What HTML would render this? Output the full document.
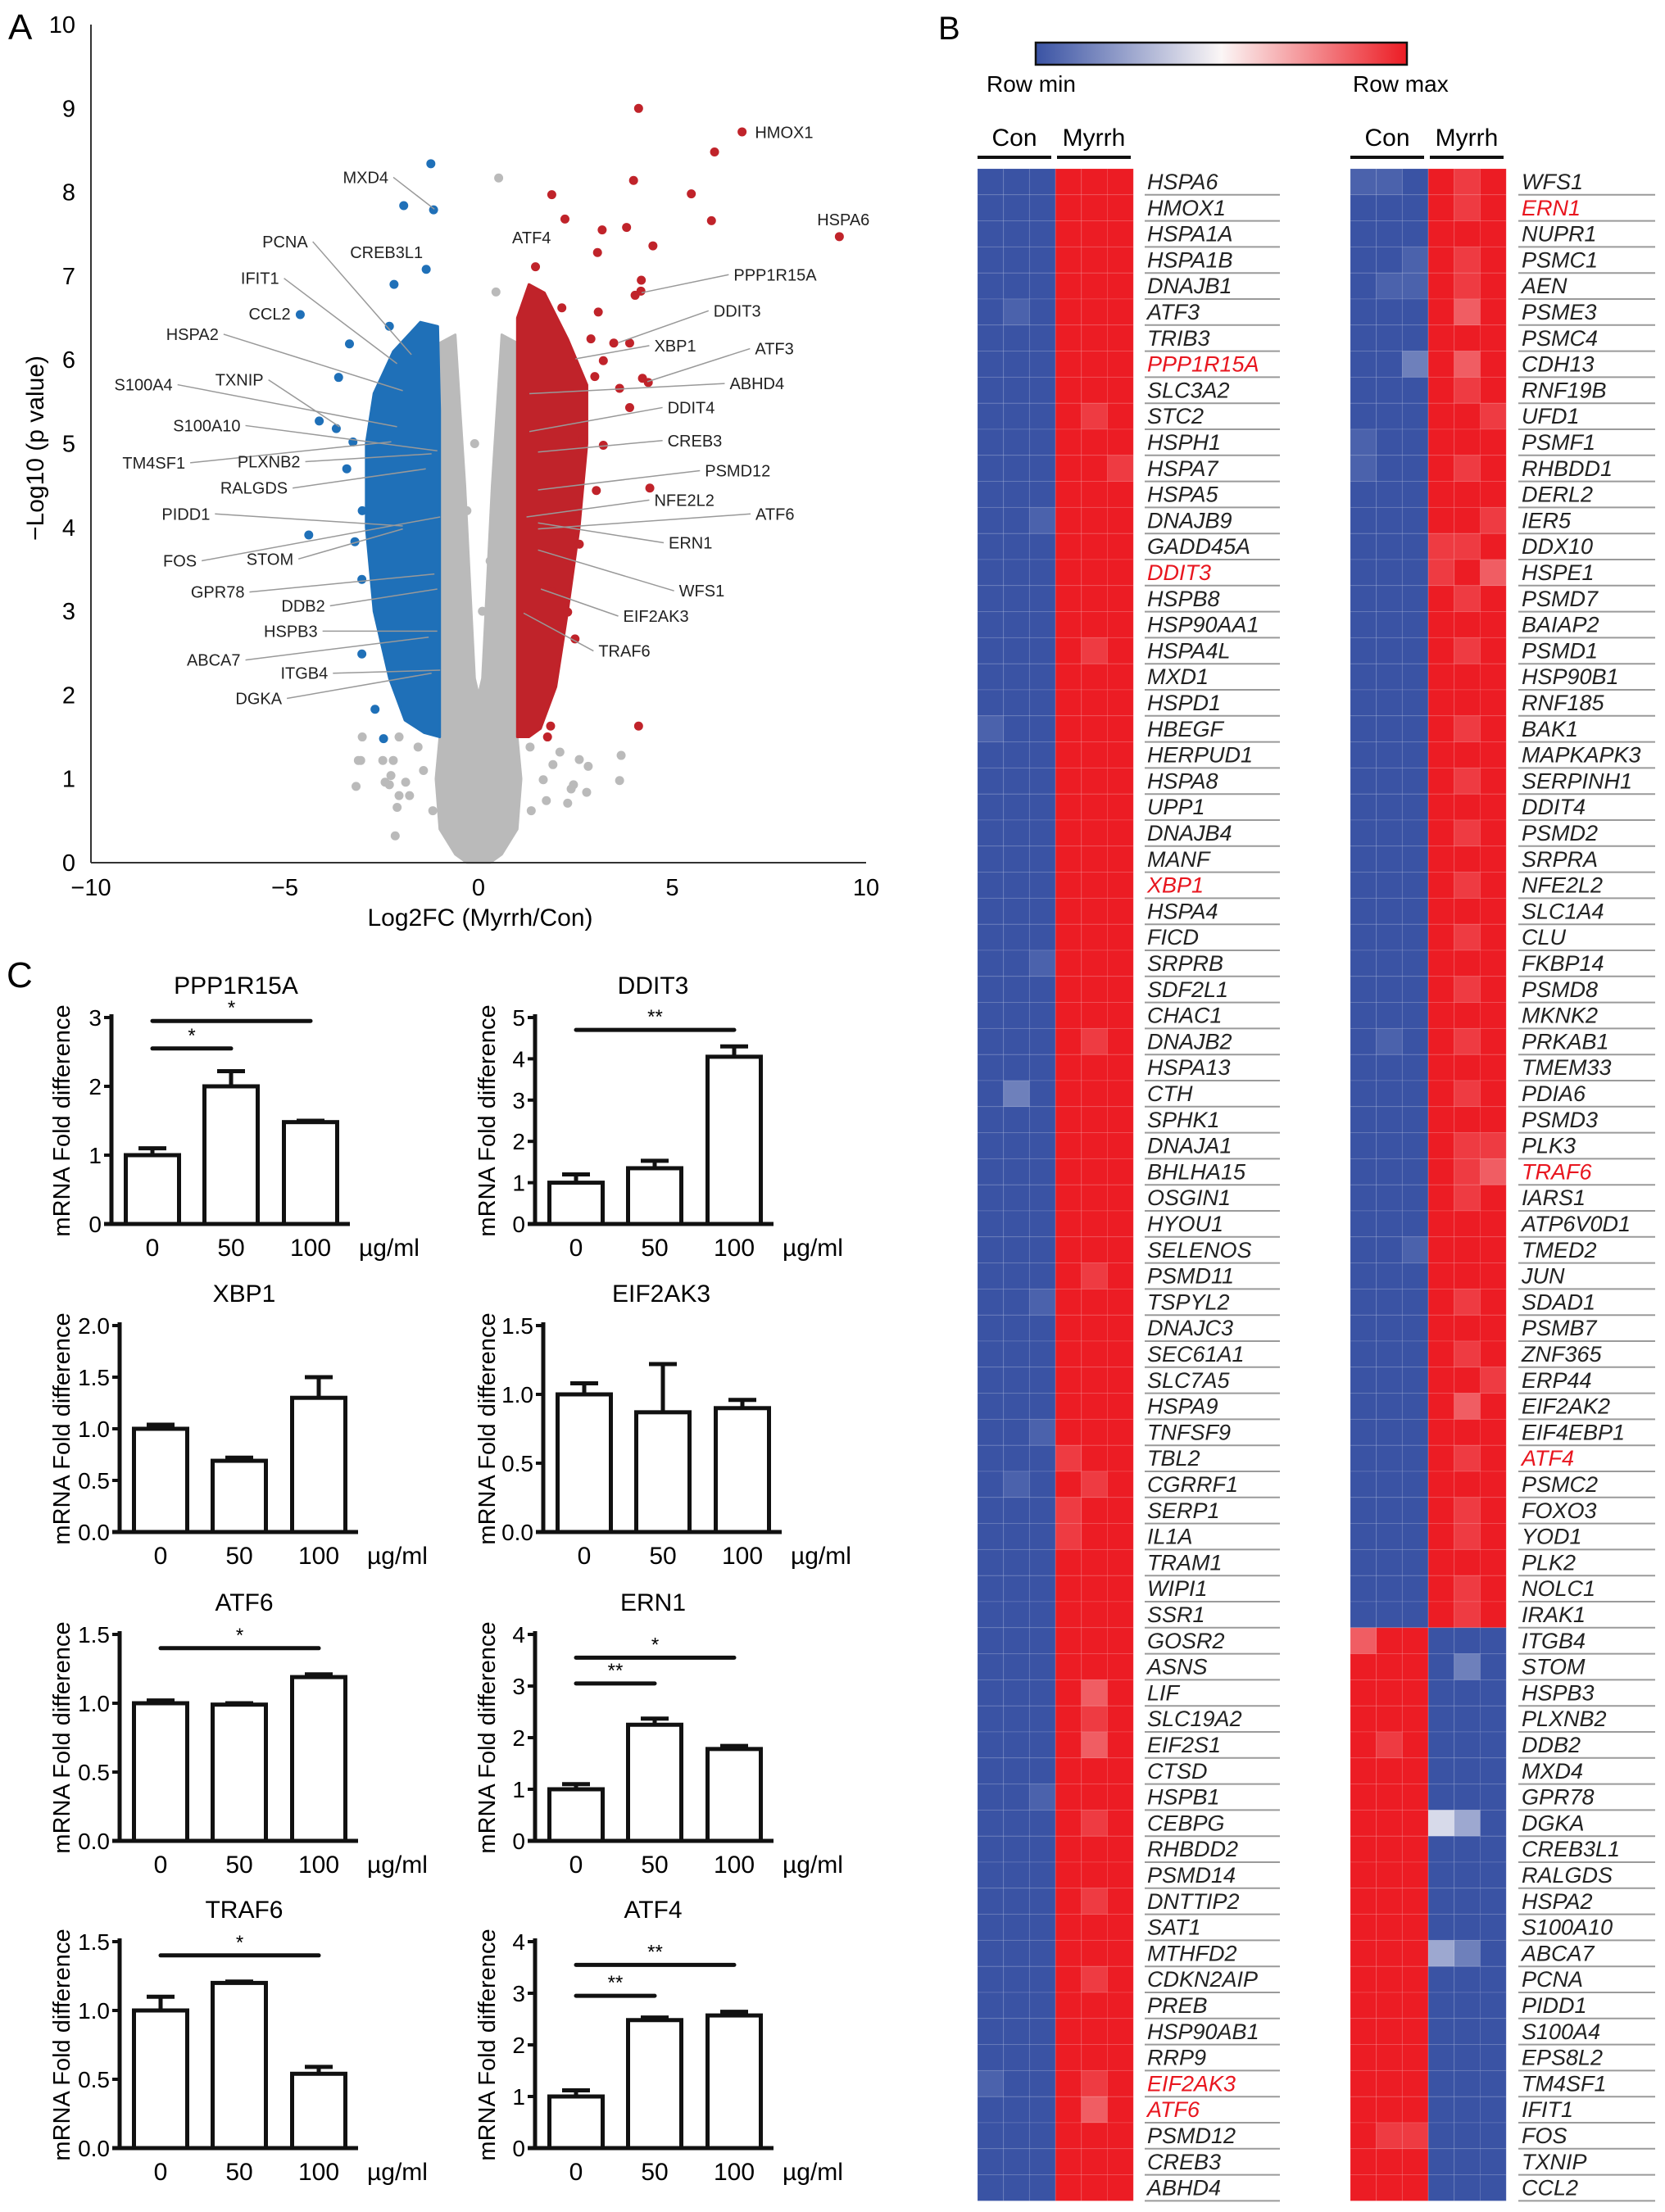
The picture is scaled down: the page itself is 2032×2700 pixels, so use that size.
<!DOCTYPE html>
<html><head><meta charset="utf-8">
<style>
html,body{margin:0;padding:0;background:#fff;}
svg{display:block;font-family:"Liberation Sans",Arial,sans-serif;}
</style></head>
<body>
<svg id="fig" xmlns="http://www.w3.org/2000/svg" width="2032" height="2700" viewBox="0 0 2032 2700">
<defs>
<linearGradient id="cbar" x1="0" x2="1" y1="0" y2="0">
<stop offset="0" stop-color="#3a53a4"/><stop offset="0.5" stop-color="#fbf6f6"/><stop offset="1" stop-color="#ec1c24"/>
</linearGradient>
</defs>
</svg>
<script>
// ---------- VOLCANO DATA ----------
const volcXTicks=[-10,-5,0,5,10];
const volcXTickLabels=["\u221210","\u22125","0","5","10"];
const volcYTicks=[0,1,2,3,4,5,6,7,8,9,10];
const redPtsX=[4.13,6.8,6.09,4.0,5.49,1.89,6.01,9.31,2.23,3.19,3.82,4.5,3.07,1.47,4.2,4.19,4.04,3.09,2.15,3.49,3.9,3.22,4.23,4.38,3.64,3.9,3.22,4.42,3.04,4.13,2.49,2.3,1.9,2.6,1.86,1.78,2.9,3.0,2.7];
const redPtsY=[9.0,8.72,8.48,8.14,7.98,7.97,7.66,7.47,7.68,7.55,7.58,7.36,7.28,7.11,6.95,6.82,6.77,6.57,6.62,6.2,6.2,5.99,5.78,5.73,5.66,5.43,4.98,4.47,4.44,1.63,2.67,2.99,3.23,3.8,1.63,1.5,6.25,5.8,5.05];
const bluePtsX=[-1.23,-1.93,-1.16,-1.35,-2.18,-4.6,-3.33,-3.61,-4.11,-3.67,-4.38,-3.01,-3.19,-3.01,-2.67,-2.45,-3.24,-2.3,-3.0,-3.4];
const bluePtsY=[8.34,7.84,7.79,7.08,6.9,6.54,6.19,5.79,5.27,5.18,3.91,3.38,3.83,2.49,1.83,1.48,5.02,6.4,4.2,4.7];
const greyPtsX=[0.52,0.45,-3.04,-3.16,3.64,2.79,2.45,-2.15,-2.3,-3.0,-2.05,-3.1,-2.47,-2.2,-2.26,-2.41,-1.88,-2.05,-1.78,-2.1,-1.18,2.1,2.6,2.83,3.68,2.39,2.3,1.75,1.36,1.92,1.67,1.33,-1.56,-1.42,-0.3,0.3,0.1,-0.1];
const greyPtsY=[8.17,6.81,1.22,0.91,0.98,0.84,0.93,0.32,0.93,1.5,1.5,1.22,1.22,1.22,1.04,0.96,0.96,0.8,0.8,0.66,0.62,1.32,1.23,1.15,1.28,0.88,0.71,0.74,0.62,1.17,0.99,1.38,1.38,1.1,4.2,3.6,3.0,5.0];
const blueCloud=[[-1.0,1.5],[-1.0,5.4],[-1.05,6.4],[-1.5,6.45],[-2.2,6.1],[-2.7,5.6],[-2.9,5.0],[-2.9,4.0],[-2.7,3.0],[-2.3,2.2],[-1.9,1.7],[-1.4,1.55]];
const redCloud=[[1.0,1.5],[1.0,6.5],[1.3,6.9],[1.7,6.8],[2.3,6.25],[2.8,5.7],[2.8,5.0],[2.6,4.0],[2.3,3.0],[2.0,2.1],[1.6,1.6],[1.3,1.5]];
const greyCloud=[[-1.0,6.2],[-0.6,6.3],[-0.35,4.5],[-0.1,2.2],[0,2.0],[0.1,2.2],[0.35,4.5],[0.6,6.3],[1.0,6.2],[1.0,1.5],[1.1,1.0],[1.0,0.4],[0.6,0.1],[0.3,0],[-0.3,0],[-0.6,0.1],[-1.0,0.4],[-1.1,1.0],[-1.0,1.5]];
// label positions in reference-zoom space: [name, x, y, anchor, targetX, targetY]
const volcLabels=[
["MXD4",675,295,"end",755,348],["PCNA",535,402,"end",715,590],["CREB3L1",735,420,"end",null,null],
["IFIT1",485,463,"end",690,605],["CCL2",505,522,"end",null,null],["HSPA2",380,556,"end",700,650],
["S100A4",300,640,"end",690,710],["TXNIP",458,632,"end",590,710],["S100A10",418,708,"end",760,750],
["TM4SF1",322,770,"end",680,735],["PLXNB2",522,768,"end",750,755],["RALGDS",500,812,"end",740,780],
["PIDD1",365,855,"end",700,875],["FOS",342,933,"end",765,860],["STOM",510,930,"end",700,880],
["GPR78",425,985,"end",755,955],["DDB2",565,1008,"end",760,980],["HSPB3",552,1050,"end",760,1050],
["ABCA7",418,1098,"end",745,1060],["ITGB4",570,1120,"end",765,1115],["DGKA",490,1162,"end",750,1120],
["HMOX1",1312,220,"start",null,null],["HSPA6",1420,365,"start",null,null],["ATF4",890,395,"start",null,null],
["PPP1R15A",1275,457,"start",1115,487],["DDIT3",1240,517,"start",1075,570],["XBP1",1137,575,"start",1000,597],
["ATF3",1312,580,"start",1125,635],["ABHD4",1268,638,"start",920,655],["DDIT4",1160,678,"start",920,718],
["CREB3",1160,733,"start",935,752],["PSMD12",1225,783,"start",935,815],["NFE2L2",1137,832,"start",915,860],
["ATF6",1313,855,"start",935,880],["ERN1",1162,903,"start",935,870],["WFS1",1180,983,"start",935,915],
["EIF2AK3",1083,1025,"start",940,980],["TRAF6",1040,1083,"start",910,1020]];

// ---------- HEATMAP DATA ----------
const heatLeftGenes=["HSPA6","HMOX1","HSPA1A","HSPA1B","DNAJB1","ATF3","TRIB3","PPP1R15A","SLC3A2","STC2","HSPH1","HSPA7","HSPA5","DNAJB9","GADD45A","DDIT3","HSPB8","HSP90AA1","HSPA4L","MXD1","HSPD1","HBEGF","HERPUD1","HSPA8","UPP1","DNAJB4","MANF","XBP1","HSPA4","FICD","SRPRB","SDF2L1","CHAC1","DNAJB2","HSPA13","CTH","SPHK1","DNAJA1","BHLHA15","OSGIN1","HYOU1","SELENOS","PSMD11","TSPYL2","DNAJC3","SEC61A1","SLC7A5","HSPA9","TNFSF9","TBL2","CGRRF1","SERP1","IL1A","TRAM1","WIPI1","SSR1","GOSR2","ASNS","LIF","SLC19A2","EIF2S1","CTSD","HSPB1","CEBPG","RHBDD2","PSMD14","DNTTIP2","SAT1","MTHFD2","CDKN2AIP","PREB","HSP90AB1","RRP9","EIF2AK3","ATF6","PSMD12","CREB3","ABHD4"];
const heatLeftVals=["000999","000999","000999","000999","000999","010999","000999","000999","000999","000989","000999","000998","000999","001999","000999","000999","000999","000999","000989","000999","000999","100999","000999","000999","000999","000999","000999","000999","000999","000999","001999","000999","000999","000989","000999","020999","000999","000999","000999","000999","000999","000999","000989","001999","000999","000999","000999","000999","001999","000899","010989","000899","000899","000999","000999","000999","000999","000999","000979","000989","000979","000999","001999","000989","000999","000999","000989","000999","000999","000989","000999","000999","000999","100989","000979","000999","000999","000999"];
const heatRightGenes=["WFS1","ERN1","NUPR1","PSMC1","AEN","PSME3","PSMC4","CDH13","RNF19B","UFD1","PSMF1","RHBDD1","DERL2","IER5","DDX10","HSPE1","PSMD7","BAIAP2","PSMD1","HSP90B1","RNF185","BAK1","MAPKAPK3","SERPINH1","DDIT4","PSMD2","SRPRA","NFE2L2","SLC1A4","CLU","FKBP14","PSMD8","MKNK2","PRKAB1","TMEM33","PDIA6","PSMD3","PLK3","TRAF6","IARS1","ATP6V0D1","TMED2","JUN","SDAD1","PSMB7","ZNF365","ERP44","EIF2AK2","EIF4EBP1","ATF4","PSMC2","FOXO3","YOD1","PLK2","NOLC1","IRAK1","ITGB4","STOM","HSPB3","PLXNB2","DDB2","MXD4","GPR78","DGKA","CREB3L1","RALGDS","HSPA2","S100A10","ABCA7","PCNA","PIDD1","S100A4","EPS8L2","TM4SF1","IFIT1","FOS","TXNIP","CCL2"];
const heatRightVals=["110989","000989","000999","001989","011989","000979","000999","002979","000989","000998","100999","100989","000999","000998","000889","000897","000989","000999","000989","000999","000999","000989","000999","000989","000999","000989","000999","000989","000999","000989","000999","000989","000999","010989","000999","000989","000999","000988","000987","000989","000999","001999","000999","000989","000999","000989","000998","000979","000999","000989","000999","000989","000989","000999","000989","000989",
"799000","999020","999000","999000","989000","999000","999000","999430","999000","999000","999000","999000","999320","999000","999000","999000","999000","999000","999000","988000","999000","999000"];
const heatRedGenes=["PPP1R15A","DDIT3","XBP1","EIF2AK3","ATF6","ERN1","TRAF6","ATF4"];

// ---------- BAR CHART DATA ----------
const barTitles=["PPP1R15A","DDIT3","XBP1","EIF2AK3","ATF6","ERN1","TRAF6","ATF4"];
const barDoses=["0","50","100"];
const barYMax=[3,5,2,1.5,1.5,4,1.5,4];
const barTickLabels=[["0","1","2","3"],["0","1","2","3","4","5"],["0.0","0.5","1.0","1.5","2.0"],["0.0","0.5","1.0","1.5"],["0.0","0.5","1.0","1.5"],["0","1","2","3","4"],["0.0","0.5","1.0","1.5"],["0","1","2","3","4"]];
const barMeans=[[1.0,2.0,1.48],[1.0,1.35,4.05],[1.0,0.69,1.3],[1.0,0.87,0.9],[1.0,0.99,1.19],[1.0,2.25,1.78],[1.0,1.2,0.54],[1.0,2.48,2.57]];
const barErrs=[[0.1,0.22,0.02],[0.2,0.18,0.25],[0.04,0.03,0.2],[0.08,0.35,0.06],[0.02,0.01,0.02],[0.1,0.12,0.06],[0.1,0.01,0.05],[0.12,0.05,0.07]];
const barSigFrom=[[0,0],[0],[],[],[0],[0,0],[0],[0,0]];
const barSigTo=[[1,2],[2],[],[],[2],[1,2],[2],[1,2]];
const barSigLevel=[[2.55,2.95],[4.7],[],[],[1.4],[3.05,3.55],[1.4],[2.95,3.55]];
const barSigMark=[["*","*"],["**"],[],[],["*"],["**","*"],["*"],["**","**"]];

// ---------- helpers ----------
const NS="http://www.w3.org/2000/svg";
const svg=document.getElementById("fig");
function mk(tag,attrs,parent){const e=document.createElementNS(NS,tag);for(const k in attrs)e.setAttribute(k,attrs[k]);(parent||svg).appendChild(e);return e;}
function txt(s,attrs,parent){const e=mk("text",attrs,parent);e.textContent=s;return e;}

// ================= PANEL A: VOLCANO =================
const vx=v=>584+47.3*v, vy=v=>1053-102.3*v;
const zx=z=>z/1.424, zy=z=>z/1.363;
const gA=mk("g",{});


let el=txt("A",{x:10,y:48,"font-size":44});


function cloud(arr,color,name){
  const p=mk("polygon",{points:arr.map(d=>vx(d[0])+","+vy(d[1])).join(" "),fill:color,stroke:color,"stroke-width":3,"stroke-linejoin":"round"},gA);
  
  
}
cloud(greyCloud,"#bababa","grey-point-cloud");
cloud(blueCloud,"#1f70b8","down-regulated-cloud");
cloud(redCloud,"#c0232a","up-regulated-cloud");
function pts(xs,ys,color,name){
  for(let i=0;i<xs.length;i++){
    const c=mk("circle",{cx:vx(xs[i]),cy:vy(ys[i]),r:5.5,fill:color},gA);
    
    
  }
}
pts(greyPtsX,greyPtsY,"#bababa","grey-point");
pts(bluePtsX,bluePtsY,"#1f70b8","down-regulated-point");
pts(redPtsX,redPtsY,"#c0232a","up-regulated-point");
el=mk("line",{x1:111,y1:30,x2:111,y2:1053,stroke:"#333","stroke-width":2},gA);


el=mk("line",{x1:111,y1:1053,x2:1057,y2:1053,stroke:"#333","stroke-width":2},gA);


volcYTicks.forEach(t=>{
  const e=txt(String(t),{x:92,y:vy(t)+10,"font-size":29,"text-anchor":"end"},gA);
  
  
});
volcXTicks.forEach((t,i)=>{
  const e=txt(volcXTickLabels[i],{x:vx(t),y:1093,"font-size":29,"text-anchor":"middle"},gA);
  
  
});
el=txt("Log2FC (Myrrh/Con)",{x:586,y:1130,"font-size":30,"text-anchor":"middle"},gA);


el=txt("\u2212Log10 (p value)",{x:0,y:0,"font-size":30,"text-anchor":"middle",transform:"translate(53,547) rotate(-90)"},gA);


volcLabels.forEach(L=>{
  const x=zx(L[1]),y=zy(L[2]);
  if(L[4]!==null){
    const x0=L[3]==="end"?x+6:x-6;
    const ln=mk("line",{x1:x0,y1:y,x2:zx(L[4]),y2:zy(L[5]),stroke:"#999","stroke-width":1.5},gA);
    
    
  }
  const t=txt(L[0],{x:x,y:y+7,"font-size":20,"text-anchor":L[3],fill:"#222"},gA);
  
  
});

// ================= PANEL B: HEATMAP =================
const gB=mk("g",{});


el=txt("B",{x:1145,y:48,"font-size":40},gB);


el=mk("rect",{x:1264,y:52,width:453,height:27,fill:"url(#cbar)",stroke:"#111","stroke-width":2.5},gB);


el=txt("Row min",{x:1204,y:112,"font-size":28},gB);


el=txt("Row max",{x:1651,y:112,"font-size":28},gB);


const blue=[58,83,164],white=[248,246,248],red=[236,28,36];
function col(d){const t=d/9;let a,b,s;if(t<0.5){a=blue;b=white;s=t*2;}else{a=white;b=red;s=(t-0.5)*2;}
  s=t<0.5?Math.pow(s,1.6):Math.pow(s,0.6);
  return "rgb("+a.map((v,i)=>Math.round(v+(b[i]-v)*s)).join(",")+")";}
const HTOP=206,RH=31.8,CW=31.7;
function heat(x0,labX,lineX1,lineX2,genes,vals){
  [["Con",x0,x0+90],["Myrrh",x0+97,x0+187]].forEach(h=>{
    const t=txt(h[0],{x:(h[1]+h[2])/2,y:178,"font-size":30,"text-anchor":"middle"},gB);
    
    
    const l=mk("line",{x1:h[1],y1:192,x2:h[2],y2:192,stroke:"#111","stroke-width":4},gB);
    
    
  });
  genes.forEach((g,r)=>{
    const y=HTOP+r*RH;
    for(let c=0;c<6;c++){
      const cell=mk("rect",{x:x0+c*CW,y:y,width:CW,height:RH,fill:col(+vals[r][c]),stroke:"rgba(255,255,255,0.12)","stroke-width":1},gB);
      
      
    }
    const t=txt(g,{x:labX,y:y+25,"font-size":27,"font-style":"italic",fill:heatRedGenes.includes(g)?"#e8161f":"#222"},gB);
    
    
    const l=mk("line",{x1:lineX1,y1:y+RH,x2:lineX2,y2:y+RH,stroke:"#9a9a9a","stroke-width":2},gB);
    
    
  });
}
heat(1193,1400,1397,1562,heatLeftGenes,heatLeftVals);
heat(1648,1857,1853,2020,heatRightGenes,heatRightVals);

// ================= PANEL C: BAR CHARTS =================
const gC=mk("g",{});


el=txt("C",{x:8,y:1205,"font-size":44},gC);


const chartAxisX=[136,653,146,663,146,653,146,653];
const titleDX=[152,144],ylabX=[85,604],rowBase=[1494,1870,2247,2622],CH=252;
const barOff=[50,146,243],BW=65;
barTitles.forEach((title,k)=>{
  const ax=chartAxisX[k],base=rowBase[Math.floor(k/2)];
  const yS=v=>base-v/barYMax[k]*CH;
  const g=mk("g",{},gC);
  
  
  let e=txt(title,{x:ax+titleDX[k%2],y:base-281,"font-size":30,"text-anchor":"middle"},g);
  
  
  e=txt("mRNA Fold difference",{x:0,y:0,"font-size":29,"text-anchor":"middle",transform:"translate("+ylabX[k%2]+","+(base-126)+") rotate(-90)"},g);
  
  
  const labs=barTickLabels[k],step=barYMax[k]/(labs.length-1);
  labs.forEach((lb,i)=>{
    const y=yS(i*step);
    const tk=mk("line",{x1:ax-9,y1:y,x2:ax,y2:y,stroke:"#111","stroke-width":4},g);
    
    
    const tl=txt(lb,{x:ax-12,y:y+10,"font-size":28,"text-anchor":"end"},g);
    
    
  });
  barMeans[k].forEach((m,i)=>{
    const cx=ax+barOff[i];
    const bar=mk("rect",{x:cx-BW/2,y:yS(m),width:BW,height:base-yS(m),fill:"#fff",stroke:"#111","stroke-width":5},g);
    
    
    const top=yS(m+barErrs[k][i]);
    const eb=mk("path",{d:"M"+cx+","+yS(m)+"V"+top+"M"+(cx-17)+","+top+"H"+(cx+17),stroke:"#111","stroke-width":5,fill:"none"},g);
    
    
    const dl=txt(barDoses[i],{x:cx,y:base+39,"font-size":30,"text-anchor":"middle"},g);
    
    
  });
  e=mk("line",{x1:ax,y1:base-CH-4,x2:ax,y2:base,stroke:"#111","stroke-width":5},g);
  
  
  e=mk("line",{x1:ax-9,y1:base,x2:ax+291,y2:base,stroke:"#111","stroke-width":5},g);
  
  
  e=txt("\u00b5g/ml",{x:ax+302,y:base+39,"font-size":30},g);
  
  
  barSigLevel[k].forEach((lv,j)=>{
    const x1=ax+barOff[barSigFrom[k][j]],x2=ax+barOff[barSigTo[k][j]];
    const y=yS(lv);
    const sl=mk("line",{x1:x1,y1:y,x2:x2,y2:y,stroke:"#111","stroke-width":5,"stroke-linecap":"round"},g);
    
    
    const st=txt(barSigMark[k][j],{x:(x1+x2)/2,y:y-8,"font-size":24,"text-anchor":"middle"},g);
    
    
  });
});
</script>
</body></html>
